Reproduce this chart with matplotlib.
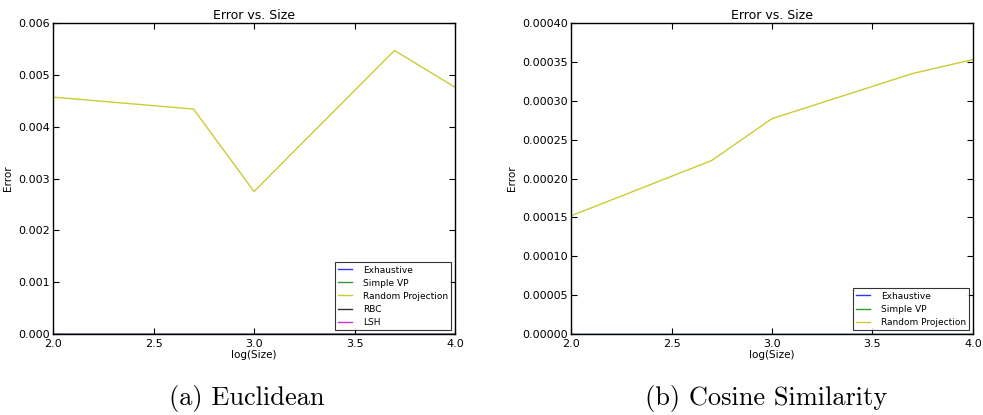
import matplotlib
matplotlib.use("Agg")
import matplotlib.pyplot as plt

log_size = [2.0, 2.699, 3.0, 3.699, 4.0]

# Euclidean
euc_exhaustive = [0.0, 0.0, 0.0, 0.0, 0.0]
euc_simple_vp = [0.0, 0.0, 0.0, 0.0, 0.0]
euc_random_proj = [0.00457, 0.00434, 0.00275, 0.00547, 0.00476]
euc_rbc = [0.0, 0.0, 0.0, 0.0, 0.0]
euc_lsh = [0.0, 0.0, 0.0, 0.0, 0.0]

# Cosine similarity
cos_exhaustive = [0.0, 0.0, 0.0, 0.0, 0.0]
cos_simple_vp = [0.0, 0.0, 0.0, 0.0, 0.0]
cos_random_proj = [0.000152, 0.000223, 0.000277, 0.000335, 0.000353]

euc_yticks = [0.000, 0.001, 0.002, 0.003, 0.004, 0.005, 0.006]
cos_yticks = [0.00000, 0.00005, 0.00010, 0.00015, 0.00020, 0.00025, 0.00030, 0.00035, 0.00040]
xticks = [2.0, 2.5, 3.0, 3.5, 4.0]

colors = {
    "Exhaustive": (0.0, 0.0, 1.0),
    "Simple VP": (0.0, 0.5, 0.0),
    "Random Projection": (0.75, 0.75, 0.0),
    "RBC": (0.0, 0.0, 0.0),
    "LSH": (0.75, 0.0, 0.75),
}

W, H = 983, 415
fig = plt.figure(figsize=(W / 100, H / 100), dpi=100)

def make_ax(x0, x1, y0, y1):
    return fig.add_axes([x0 / W, 1 - y1 / H, (x1 - x0) / W, (y1 - y0) / H])

ax1 = make_ax(53, 455, 23, 334)
ax2 = make_ax(571, 973, 23, 334)

def style(ax, yticks, fmt):
    ax.set_xlim(2.0, 4.0)
    ax.set_ylim(yticks[0], yticks[-1])
    ax.set_xticks(xticks)
    ax.set_xticklabels(["%.1f" % v for v in xticks])
    ax.set_yticks(yticks)
    ax.set_yticklabels([fmt % v for v in yticks])
    ax.tick_params(direction="in", top=True, right=True, labelsize=8, length=4, width=0.8, pad=2)
    ax.tick_params(axis="x", pad=3.5)
    ax.set_title("Error vs. Size", fontsize=9, pad=3)
    ax.set_xlabel("log(Size)", fontsize=7.5, labelpad=1)
    ax.set_ylabel("Error", fontsize=7.5, labelpad=4)
    for s in ax.spines.values():
        s.set_linewidth(1.0)

def legend(ax):
    leg = ax.legend(loc="lower right", fontsize=6.5, frameon=True, fancybox=False, edgecolor="black",
                    handlelength=1.5, handletextpad=1.2, borderpad=0.4, labelspacing=0.45,
                    borderaxespad=0.4)
    leg.get_frame().set_linewidth(0.8)

alpha = 0.8
for name, vals in [("Exhaustive", euc_exhaustive), ("Simple VP", euc_simple_vp),
                   ("Random Projection", euc_random_proj), ("RBC", euc_rbc), ("LSH", euc_lsh)]:
    ax1.plot(log_size, vals, color=colors[name], lw=1.0, alpha=alpha, label=name)
style(ax1, euc_yticks, "%.3f")
legend(ax1)

for name, vals in [("Exhaustive", cos_exhaustive), ("Simple VP", cos_simple_vp),
                   ("Random Projection", cos_random_proj)]:
    ax2.plot(log_size, vals, color=colors[name], lw=1.0, alpha=alpha, label=name)
style(ax2, cos_yticks, "%.5f")
legend(ax2)

fig.text(247 / W, 1 - 398 / H, "(a) Euclidean", family="cmr10", fontsize=19, ha="center", va="center")
fig.text(766 / W, 1 - 398 / H, "(b) Cosine Similarity", family="cmr10", fontsize=19, ha="center", va="center")

fig.savefig("out.png", dpi=100)
